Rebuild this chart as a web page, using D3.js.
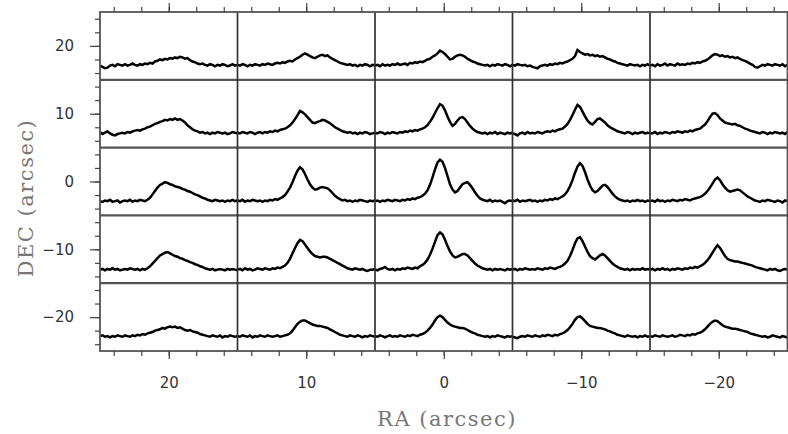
<!DOCTYPE html>
<html>
<head>
<meta charset="utf-8">
<script src="https://cdn.jsdelivr.net/npm/d3@7"></script>
<style>
  body { margin: 0; background: #fff; }
  svg { display: block; }
</style>
</head>
<body>
<svg width="788" height="434"></svg>
<script>
// panel centres (arcsec)
var colRA = [20, 10, 0, -10, -20];
var rowDEC = [20, 10, 0, -10, -20];
var majorTicks = [20, 10, 0, -10, -20];
var minorTicks = d3.range(-24, 25, 2);
var panelEdges = [15, 5, -5, -15];

// spectra, tenths of arcsec above the panel bottom, 56 samples across each panel
var row20 = [
	[21,19,17,18,21,22,20,23,22,21, 23,21,22,24,22,21,23,22,24,23, 25,24,27,28,30,29,31,30,32,31, 33,32,34,33,31,32,29,27,26,24, 23,24,22,21,23,22,20,22,21,23, 22,20,21,23,21,22],
	[22,21,23,22,20,22,21,23,22,21, 23,22,24,23,22,24,25,24,26,25, 27,28,27,30,32,34,37,39,37,35, 33,32,34,36,37,35,36,33,31,29, 27,25,24,23,22,23,21,22,20,22, 21,23,22,20,22,21],
	[21,22,20,23,21,22,21,23,22,24, 22,23,24,22,25,24,26,25,27,26, 28,30,31,34,36,39,43,41,38,34, 30,31,34,36,37,36,34,31,29,27, 26,24,23,22,21,22,20,22,21,23, 22,21,23,22,20,22],
	[22,21,23,22,21,22,20,21,19,18, 17,20,21,22,21,23,22,24,23,25, 24,26,27,29,31,35,44,41,39,37, 38,36,37,35,36,34,35,33,31,30, 28,27,25,24,23,22,21,23,22,21, 22,20,22,21,23,21],
	[21,22,20,23,21,22,24,21,23,22, 21,24,22,23,22,24,23,25,24,26, 25,27,28,30,33,36,38,37,35,36, 34,35,33,34,32,33,31,29,28,26, 24,22,19,18,20,22,21,23,22,21, 23,22,21,23,20,22]
];
var row10 = [
	[23,20,22,24,21,19,18,20,21,22, 21,23,22,24,25,26,25,27,28,30, 31,33,35,36,38,39,41,40,42,41, 43,41,42,40,37,33,30,27,25,24, 22,23,21,22,20,22,21,23,22,21, 22,20,21,23,22,21],
	[22,21,23,22,21,23,22,20,22,23, 21,23,22,24,23,25,24,26,27,28, 30,33,37,42,48,54,52,49,45,41, 37,36,38,39,41,40,38,36,33,30, 28,26,24,23,22,23,21,22,20,22, 21,23,22,20,21,22],
	[22,21,23,22,20,22,21,23,22,21, 23,22,24,23,25,24,26,25,27,28, 30,33,38,44,51,58,64,62,55,46, 38,32,35,40,44,45,42,37,32,28, 25,23,22,21,22,20,22,21,23,20, 22,21,20,22,21,22],
	[21,20,18,21,22,20,23,21,22,21, 23,22,21,23,24,23,25,24,26,27, 28,31,35,41,48,56,63,60,53,46, 40,36,34,38,42,43,40,37,33,30, 28,26,24,23,22,21,23,22,20,22, 21,22,23,21,22,21],
	[22,21,23,20,22,21,23,22,21,23, 22,24,23,22,24,23,25,24,26,27, 28,31,34,39,45,50,51,48,43,40, 37,36,35,34,35,33,32,30,28,27, 25,24,23,22,21,23,22,20,22,21, 23,22,21,22,20,23]
];
var row0 = [
	[21,20,22,21,23,20,21,22,19,21, 22,21,23,20,22,21,23,22,21,23, 26,31,36,41,45,47,49,48,46,45, 43,42,41,39,38,36,35,33,31,30, 28,26,25,23,22,21,23,22,21,22, 20,22,21,23,21,22],
	[22,21,23,20,22,21,23,22,21,22, 20,22,21,23,22,24,23,25,27,30, 35,41,49,58,66,71,68,61,53,46, 41,38,39,41,42,41,40,37,33,29, 26,24,22,23,21,22,20,22,21,23, 22,21,20,22,21,22],
	[21,22,20,22,21,23,22,21,23,22, 21,23,22,24,23,25,24,26,27,29, 32,37,45,56,68,78,82,79,70,58, 46,38,34,36,41,46,48,49,45,40, 34,29,25,23,22,21,23,20,22,21, 22,20,18,21,22,21],
	[22,21,23,20,22,21,22,23,21,22, 20,22,21,23,22,24,23,25,24,26, 28,31,36,43,52,63,72,77,73,64, 53,44,37,34,36,40,44,45,42,37, 32,28,25,23,22,21,22,20,22,21, 23,21,22,20,22,21],
	[21,22,20,23,21,22,20,22,21,23, 22,21,23,22,24,23,22,24,25,26, 27,29,32,36,41,47,53,56,52,46, 41,37,35,36,37,38,37,34,31,28, 26,24,22,21,20,22,21,23,22,21, 20,22,21,19,22,21]
];
var rowM10 = [
	[20,21,19,21,20,22,20,21,19,20, 21,20,22,21,20,21,19,21,20,22, 25,29,33,37,41,43,45,46,44,42, 40,39,37,36,34,33,31,30,28,27, 25,24,22,21,20,21,19,20,21,20, 19,21,20,21,20,19],
	[20,21,19,22,20,21,19,20,22,21, 20,22,21,20,22,21,23,22,24,26, 30,36,44,52,59,64,62,57,52,47, 43,40,39,38,39,39,38,36,34,32, 30,28,26,24,22,21,20,22,21,20, 21,19,18,20,20,21],
	[20,19,21,22,24,21,20,21,19,21, 20,22,21,23,22,21,23,22,25,27, 30,35,42,51,61,71,75,72,64,55, 47,41,38,39,41,43,43,41,37,33, 29,26,24,22,21,20,21,19,21,20, 21,20,19,21,20,21],
	[20,21,19,21,20,22,21,20,21,20, 22,21,20,22,21,23,22,21,23,24, 26,29,33,40,49,59,66,68,62,54, 46,40,37,35,38,41,43,41,37,33, 29,26,24,22,21,20,21,19,21,20, 21,20,22,20,21,20],
	[20,21,19,21,20,22,20,21,19,21, 20,22,21,20,22,21,23,22,24,23, 25,27,30,34,39,45,51,56,52,46, 40,36,34,33,32,32,31,30,29,28, 27,26,24,23,22,21,20,19,21,20, 21,19,18,20,21,20]
];
var rowM20 = [
	[22,23,21,22,20,22,21,23,22,21, 23,22,21,23,22,24,23,25,24,26, 27,28,30,31,32,34,33,35,36,35, 36,34,35,33,31,30,31,29,28,27, 25,24,23,22,21,23,22,21,23,20, 22,21,23,22,21,22],
	[22,21,23,22,21,23,20,22,21,23, 22,21,23,22,21,22,23,21,22,23, 24,26,30,35,40,43,45,45,43,41, 39,38,37,37,36,35,34,32,30,28, 26,24,23,22,21,23,22,21,23,22, 20,22,21,23,22,21],
	[22,21,23,22,20,22,23,21,22,21, 23,22,21,23,22,24,23,22,24,25, 27,30,34,39,45,50,52,50,46,42, 39,37,36,35,34,34,33,31,29,27, 26,24,23,22,21,22,20,22,21,23, 22,21,20,22,21,22],
	[21,20,19,21,22,21,23,22,21,23, 22,21,23,22,24,23,22,24,23,25, 26,28,31,35,40,46,50,51,48,44, 40,37,36,35,34,34,33,32,30,29, 27,26,24,23,22,21,23,22,21,22, 20,22,21,23,21,22],
	[22,21,23,22,21,23,22,21,22,23, 21,22,24,23,22,24,23,25,24,26, 27,29,32,36,40,43,45,44,41,38, 36,35,34,33,33,32,31,30,29,28, 26,25,24,23,22,21,22,20,21,23, 22,21,20,22,21,20]
];
var spectra = [row20, row10, row0, rowM10, rowM20];

var svg = d3.select('svg');
var x = d3.scaleLinear().domain([25, -25]).range([100, 787.5]);
var y = d3.scaleLinear().domain([-25, 25]).range([351, 12]);

// spectra
var line = d3.line()
	.x(function(d) {return x(d.ra)})
	.y(function(d) {return y(d.dec)});

var curves = [];
spectra.forEach(function(row, r) {
	row.forEach(function(vals, c) {
		var n = vals.length - 1;
		curves.push(vals.map(function(v, i) {
			return {ra: colRA[c] + 5 - i * 10 / n, dec: rowDEC[r] - 5 + v / 10};
		}));
	});
});

svg.append('g').selectAll('path').data(curves).enter().append('path')
	.attr('d', line)
	.attr('fill', 'none')
	.attr('stroke', '#000')
	.attr('stroke-width', 2.5)
	.attr('stroke-linejoin', 'miter');

// panel separators
svg.append('g').selectAll('line').data(panelEdges).enter().append('line')
	.attr('x1', x(25)).attr('x2', x(-25))
	.attr('y1', function(d) {return y(d)}).attr('y2', function(d) {return y(d)})
	.attr('stroke', '#555').attr('stroke-width', 2.2);
svg.append('g').selectAll('line').data(panelEdges).enter().append('line')
	.attr('y1', y(25)).attr('y2', y(-25))
	.attr('x1', function(d) {return x(d)}).attr('x2', function(d) {return x(d)})
	.attr('stroke', '#333').attr('stroke-width', 1.7);

svg.append('rect')
	.attr('x', x(25)).attr('y', y(25))
	.attr('width', x(-25) - x(25)).attr('height', y(-25) - y(25))
	.attr('fill', 'none').attr('stroke', '#555').attr('stroke-width', 1.8);

// axes: minor ticks then major ticks with labels
function addAxis(axis, tx, ty, labels) {
	var g = svg.append('g').attr('transform', 'translate(' + tx + ',' + ty + ')');
	g.call(axis(labels ? majorTicks : minorTicks));
	g.select('.domain').remove();
	g.selectAll('line').attr('stroke', '#444').attr('stroke-width', 1.2);
	return g;
}

addAxis(function(t) {return d3.axisTop(x).tickValues(t).tickSize(5).tickFormat('')}, 0, y(25));
addAxis(function(t) {return d3.axisTop(x).tickValues(t).tickSize(9).tickFormat('')}, 0, y(25), true);
addAxis(function(t) {return d3.axisBottom(x).tickValues(t).tickSize(5).tickFormat('')}, 0, y(-25));
addAxis(function(t) {return d3.axisBottom(x).tickValues(t).tickSize(8).tickPadding(18)}, 0, y(-25), true);
addAxis(function(t) {return d3.axisLeft(y).tickValues(t).tickSize(5).tickFormat('')}, x(25), 0);
addAxis(function(t) {return d3.axisLeft(y).tickValues(t).tickSize(10).tickPadding(16)}, x(25), 0, true);

svg.selectAll('.tick text')
	.attr('font-family', 'DejaVu Sans, sans-serif')
	.attr('font-size', 15)
	.attr('fill', '#333');

// axis titles
svg.append('text')
	.attr('x', 447).attr('y', 426)
	.attr('text-anchor', 'middle')
	.attr('font-family', 'DejaVu Serif, serif')
	.attr('font-size', 21)
	.attr('letter-spacing', 1.5)
	.attr('fill', '#777')
	.text('RA (arcsec)');

svg.append('text')
	.attr('transform', 'translate(33,198) rotate(-90)')
	.attr('text-anchor', 'middle')
	.attr('font-family', 'DejaVu Serif, serif')
	.attr('font-size', 21)
	.attr('letter-spacing', 1.5)
	.attr('fill', '#777')
	.text('DEC (arcsec)');
</script>
</body>
</html>
